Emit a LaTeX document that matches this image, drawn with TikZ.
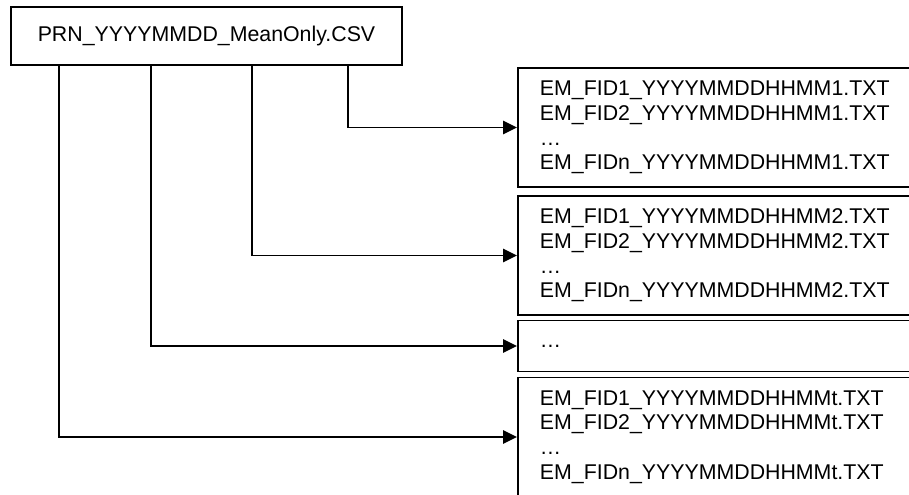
\documentclass[tikz,border=0pt]{standalone}
\usepackage{fontspec}
\setmainfont{Liberation Sans}
\usetikzlibrary{arrows.meta, positioning}

\begin{document}
\begin{tikzpicture}[
    x=0.75pt, y=-0.75pt,
    txtfont/.style={font=\fontsize{16}{18.5}\selectfont},
    topbox/.style={rectangle, draw, line width=1.4pt, minimum width=293pt, minimum height=43.5pt, txtfont},
    filebox/.style={rectangle, draw, line width=1.4pt, align=left, text width=269pt, inner xsep=16.5pt, minimum height=89.25pt, anchor=west, txtfont},
    arrowstyle/.style={-{Triangle[length=10.5pt, width=10pt]}, line width=1.4pt}
]
\useasboundingbox (0,0) rectangle (909,495);
\clip (0,0) rectangle (909,495);

\node[topbox] (prn) at (206.5,36) {PRN\_YYYYMMDD\_MeanOnly.CSV};

\node[filebox] (f1) at (517,127.5) {EM\_FID1\_YYYYMMDDHHMM1.TXT\\EM\_FID2\_YYYYMMDDHHMM1.TXT\\…\\EM\_FIDn\_YYYYMMDDHHMM1.TXT};
\node[filebox] (f2) at (517,255.5) {EM\_FID1\_YYYYMMDDHHMM2.TXT\\EM\_FID2\_YYYYMMDDHHMM2.TXT\\…\\EM\_FIDn\_YYYYMMDDHHMM2.TXT};
\node[filebox, minimum height=38.25pt] (f3) at (517,346) {…};
\node[filebox] (f4) at (517,437) {EM\_FID1\_YYYYMMDDHHMMt.TXT\\EM\_FID2\_YYYYMMDDHHMMt.TXT\\…\\EM\_FIDn\_YYYYMMDDHHMMt.TXT};

\draw[arrowstyle] (prn.south west) ++(338,0) |- (f1.west);
\draw[arrowstyle] (prn.south west) ++(242,0) |- (f2.west);
\draw[arrowstyle] (prn.south west) ++(141,0) |- (f3.west);
\draw[arrowstyle] (prn.south west) ++(49,0) |- (f4.west);
\end{tikzpicture}
\end{document}
